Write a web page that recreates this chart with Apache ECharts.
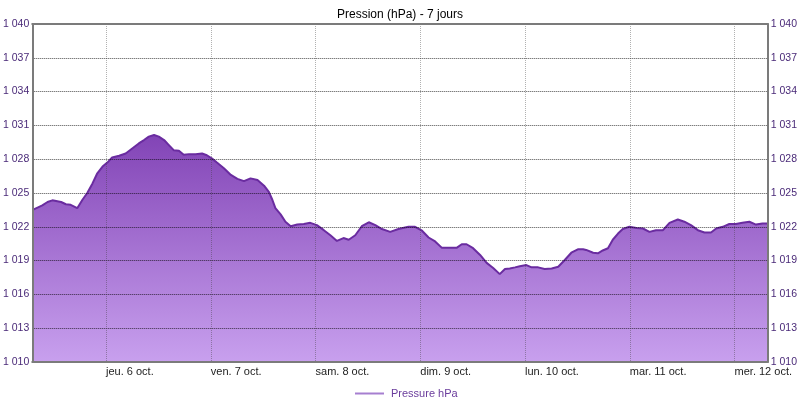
<!DOCTYPE html>
<html>
<head>
<meta charset="utf-8">
<script src="https://cdn.jsdelivr.net/npm/echarts@6/dist/echarts.min.js"></script>
<style>
  html, body { margin: 0; padding: 0; background: #fff; }
  #chart { width: 800px; height: 398px; }
</style>
</head>
<body>
<div id="chart"></div>
<script>
// heures depuis le 5 oct. 00:00
var hours = [7.2, 8.3, 9.4, 10.6, 11.7, 13.7, 14.8, 15.9, 17.4, 18.6, 19.7, 20.9, 22.0, 23.2,
  24.3, 25.4, 27.0, 28.5, 30.0, 31.5, 32.7, 33.8, 35.0, 36.1, 37.3, 38.4, 39.5, 40.7, 41.8, 43.0,
  44.5, 46.0, 47.1, 48.3, 49.4, 51.0, 52.6, 54.1, 55.6, 57.1, 58.7, 60.2, 61.3, 62.1, 62.8, 64.0,
  65.1, 66.3, 67.8, 69.3, 70.8, 72.3, 73.9, 75.4, 76.9, 78.4, 79.6, 81.1, 82.6, 84.2, 85.7, 87.2,
  89.1, 91.0, 93.3, 94.8, 96.4, 97.9, 99.4, 100.9, 102.4, 104.4, 105.5, 106.6, 108.1, 109.7, 111.2,
  112.7, 114.2, 115.4, 116.5, 117.7, 118.8, 120.3, 121.5, 123.0, 124.5, 126.1, 127.6, 129.1, 130.6,
  132.1, 133.3, 134.0, 135.6, 136.7, 137.8, 139.0, 140.1, 141.3, 142.4, 143.9, 145.5, 147.0, 148.5,
  150.0, 151.6, 153.1, 155.0, 156.5, 158.0, 159.6, 161.1, 162.6, 163.8, 165.3, 166.8, 168.3, 169.8,
  171.4, 172.9, 174.4, 175.5]

var pressure = [1023.5, 1023.7, 1023.9, 1024.2, 1024.35, 1024.2, 1024.0, 1023.95, 1023.65, 1024.4, 1025.0, 1025.85, 1026.75, 1027.35,
  1027.7, 1028.15, 1028.3, 1028.5, 1028.95, 1029.4, 1029.7, 1030.0, 1030.15, 1030.0, 1029.7, 1029.25, 1028.8, 1028.75, 1028.4, 1028.45,
  1028.45, 1028.5, 1028.35, 1028.05, 1027.7, 1027.2, 1026.6, 1026.25, 1026.05, 1026.3, 1026.15, 1025.65, 1025.1, 1024.4, 1023.65, 1023.1,
  1022.45, 1022.05, 1022.2, 1022.25, 1022.35, 1022.15, 1021.7, 1021.25, 1020.75, 1021.0, 1020.85, 1021.25, 1022.05, 1022.4, 1022.15, 1021.8,
  1021.55, 1021.8, 1022.0, 1022.0, 1021.65, 1021.05, 1020.7, 1020.15, 1020.15, 1020.15, 1020.45, 1020.45, 1020.1, 1019.5, 1018.8,
  1018.35, 1017.8, 1018.25, 1018.3, 1018.4, 1018.5, 1018.6, 1018.4, 1018.4, 1018.25, 1018.3, 1018.45, 1019.05, 1019.7,
  1020.0, 1020.0, 1019.95, 1019.7, 1019.65, 1019.9, 1020.1, 1020.85, 1021.4, 1021.8, 1022.0, 1021.9, 1021.85, 1021.55,
  1021.7, 1021.7, 1022.35, 1022.65, 1022.45, 1022.15, 1021.7, 1021.5, 1021.5, 1021.85, 1022.0, 1022.25, 1022.25, 1022.35,
  1022.45, 1022.2, 1022.3, 1022.3]

var dayTicks = [24, 48, 72, 96, 120, 144, 168]
var dayLabels = ['jeu. 6 oct.', 'ven. 7 oct.', 'sam. 8 oct.', 'dim. 9 oct.', 'lun. 10 oct.', 'mar. 11 oct.', 'mer. 12 oct.']
var pressureTicks = [1010, 1013, 1016, 1019, 1022, 1025, 1028, 1031, 1034, 1037, 1040]

var FONT = 'Liberation Sans'
var AXIS_GREY = '#7b7b7b'

function fmtPressure(v) {
  var s = String(Math.round(v))
  return s.slice(0, 1) + ' ' + s.slice(1)
}

var chart = echarts.init(document.getElementById('chart'), null, { renderer: 'canvas' })

chart.setOption({
  animation: false,
  backgroundColor: '#fff',
  title: {
    text: 'Pression (hPa) - 7 jours',
    left: 'center',
    top: 4,
    textStyle: { fontFamily: FONT, fontSize: 12, fontWeight: 'normal', color: '#000' }
  },
  legend: {
    left: 350,
    top: 383,
    itemWidth: 29,
    itemHeight: 2,
    itemGap: 10,
    data: [{ name: 'Pressure hPa', icon: 'rect', itemStyle: { color: '#a67fd0' } }],
    textStyle: { fontFamily: FONT, fontSize: 11, color: '#6a3c9c', padding: [0, 0, 0, 2] }
  },
  grid: { left: 31, right: 31.5, top: 24, bottom: 36 },
  xAxis: [{
    type: 'value',
    min: 7.1,
    max: 175.6,
    position: 'bottom',
    z: 5,
    axisLine: { show: true, lineStyle: { color: AXIS_GREY, width: 2 } },
    axisTick: { show: false, customValues: dayTicks },
    axisLabel: {
      customValues: dayTicks,
      align: 'left',
      margin: 4,
      fontFamily: FONT,
      fontSize: 11,
      color: '#222',
      formatter: function (v) {
        var i = dayTicks.indexOf(v)
        return i >= 0 ? dayLabels[i] : ''
      }
    },
    splitLine: { show: true, lineStyle: { color: 'rgba(60,60,60,0.4)', type: 'dotted', width: 1 } }
  }, {
    type: 'value',
    min: 7.1,
    max: 175.6,
    position: 'top',
    z: 5,
    axisLine: { show: true, lineStyle: { color: AXIS_GREY, width: 2 } },
    axisTick: { show: false },
    axisLabel: { show: false },
    splitLine: { show: false }
  }],
  yAxis: [{
    type: 'value',
    min: 1010,
    max: 1040,
    position: 'left',
    z: 5,
    axisLine: { show: true, lineStyle: { color: AXIS_GREY, width: 2 } },
    axisTick: { show: false, customValues: pressureTicks },
    axisLabel: {
      customValues: pressureTicks,
      margin: 3,
      fontFamily: FONT,
      fontSize: 10.5,
      color: '#4a2a78',
      formatter: fmtPressure
    },
    splitLine: { show: true, lineStyle: { color: 'rgba(0,0,0,0.7)', type: 'dotted', width: 1 } }
  }, {
    type: 'value',
    min: 1010,
    max: 1040,
    position: 'right',
    z: 5,
    axisLine: { show: true, lineStyle: { color: AXIS_GREY, width: 2 } },
    axisTick: { show: false, customValues: pressureTicks },
    axisLabel: {
      customValues: pressureTicks,
      margin: 3,
      fontFamily: FONT,
      fontSize: 10.5,
      color: '#4a2a78',
      formatter: fmtPressure
    },
    splitLine: { show: false }
  }],
  series: [{
    name: 'Pressure hPa',
    type: 'line',
    showSymbol: false,
    smooth: false,
    z: 2,
    data: hours.map(function (h, i) { return [h, pressure[i]] }),
    lineStyle: { color: '#6a2ca0', width: 2 },
    itemStyle: { color: '#a67fd0' },
    areaStyle: {
      origin: 'start',
      opacity: 1,
      color: new echarts.graphic.LinearGradient(0, 0, 0, 1, [
        { offset: 0, color: '#8244b6' },
        { offset: 1, color: '#c8a0ee' }
      ])
    }
  }]
})
</script>
</body>
</html>
